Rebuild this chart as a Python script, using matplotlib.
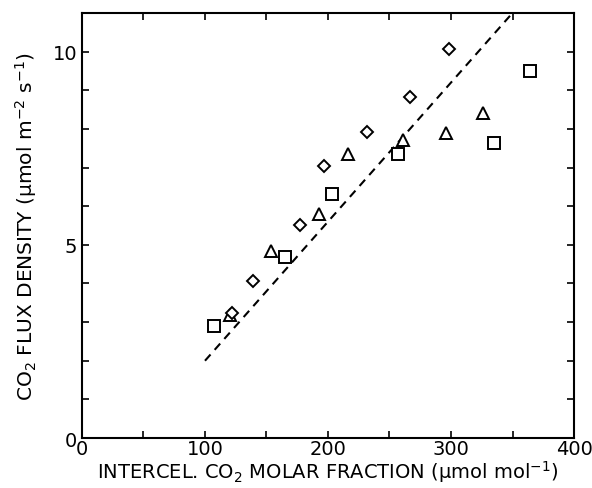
import matplotlib.pyplot as plt

# squares
sq_x = [107, 165, 203, 257, 335, 364]
sq_y = [2.91, 4.68, 6.32, 7.34, 7.64, 9.49]
# triangles
tr_x = [120, 154, 193, 216, 261, 296, 326]
tr_y = [3.19, 4.84, 5.80, 7.34, 7.70, 7.89, 8.41]
# diamonds
di_x = [122, 139, 177, 197, 232, 267, 298]
di_y = [3.23, 4.06, 5.52, 7.05, 7.92, 8.82, 10.06]
# dashed fit line end points
fit_x = [100, 350]
fit_y = [2.0, 11.0]

plt.rcParams['font.family'] = 'DejaVu Sans'
fig = plt.figure(figsize=(5.92, 4.89), dpi=100)
ax = fig.add_axes([0.1385, 0.1022, 0.8311, 0.8692])

ax.plot(fit_x, fit_y, "k", linestyle=(0, (4, 3)), linewidth=1.5)
ax.plot(sq_x, sq_y, "s", markersize=8.5, markerfacecolor="white", markeredgecolor="k", markeredgewidth=1.4)
ax.plot(tr_x, tr_y, "^", markersize=8, markerfacecolor="white", markeredgecolor="k", markeredgewidth=1.4)
ax.plot(di_x, di_y, "D", markersize=6, markerfacecolor="white", markeredgecolor="k", markeredgewidth=1.4)

ax.set_xlim(0, 400)
ax.set_ylim(0, 11)
ax.set_xticks([0, 100, 200, 300, 400])
ax.set_xticks(range(50, 400, 100), minor=True)
ax.set_yticks([0, 5, 10])
ax.set_yticks([1, 2, 3, 4, 6, 7, 8, 9], minor=True)
ax.tick_params(direction="in", which="both", length=5, width=1.2, labelsize=14, top=True, right=True)
ax.tick_params(axis="x", pad=1)
for s in ax.spines.values():
    s.set_linewidth(1.5)

ax.set_xlabel("INTERCEL. CO$_2$ MOLAR FRACTION (μmol mol$^{-1}$)", fontsize=14, labelpad=0)
ax.set_ylabel("CO$_2$ FLUX DENSITY (μmol m$^{-2}$ s$^{-1}$)", fontsize=14.5, labelpad=10)

plt.savefig("out.png")
